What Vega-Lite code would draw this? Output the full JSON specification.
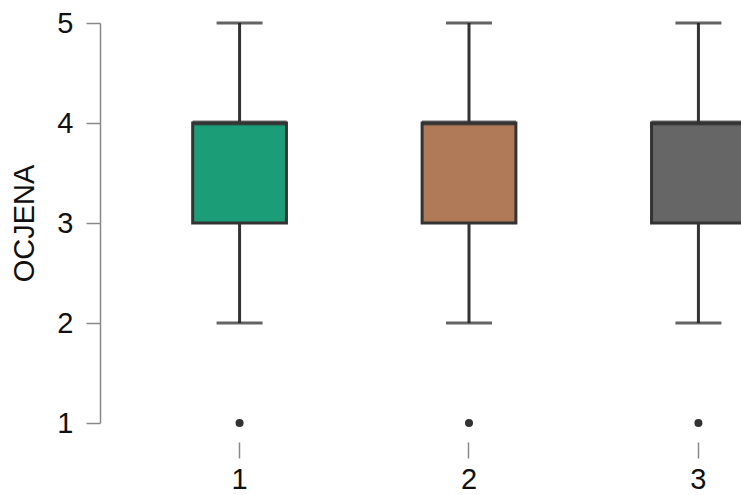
{
  "$schema": "https://vega.github.io/schema/vega-lite/v6.json",
  "autosize": "none",
  "padding": {"left": 100, "top": 23, "right": 0, "bottom": 72},
  "width": 738,
  "height": 400,
  "background": "white",
  "config": {
    "view": {"stroke": null},
    "font": "Liberation Sans"
  },
  "data": {
    "values": [
      {"grupa": "1", "lower": 2, "q1": 3, "median": 4, "q3": 4, "upper": 5, "outlier": 1},
      {"grupa": "2", "lower": 2, "q1": 3, "median": 4, "q3": 4, "upper": 5, "outlier": 1},
      {"grupa": "3", "lower": 2, "q1": 3, "median": 4, "q3": 4, "upper": 5, "outlier": 1}
    ]
  },
  "encoding": {
    "x": {
      "field": "grupa",
      "type": "nominal",
      "scale": {"paddingInner": 0.5913, "paddingOuter": 0.404},
      "axis": {
        "title": null,
        "labelAngle": 0,
        "domain": false,
        "offset": 19,
        "tickSize": 16,
        "tickColor": "#888888",
        "tickWidth": 1.5,
        "labelFontSize": 29,
        "labelColor": "#111111",
        "labelPadding": 7
      }
    }
  },
  "layer": [
    {
      "mark": {"type": "rule", "color": "#333333", "strokeWidth": 3},
      "encoding": {
        "y": {
          "field": "lower",
          "type": "quantitative",
          "scale": {"domain": [1, 5], "nice": false, "zero": false},
          "axis": {
            "title": "OCJENA",
            "values": [1, 2, 3, 4, 5],
            "format": "d",
            "grid": false,
            "domainColor": "#888888",
            "domainWidth": 1.5,
            "tickColor": "#888888",
            "tickWidth": 1.5,
            "tickSize": 14,
            "labelFontSize": 29,
            "labelColor": "#111111",
            "labelPadding": 13,
            "titleFontSize": 29,
            "titleFontWeight": "normal",
            "titleColor": "#111111",
            "titleX": -76,
            "titleY": 200,
            "titleAlign": "center",
            "titleBaseline": "middle",
            "titleAngle": -90
          }
        },
        "y2": {"field": "upper"}
      }
    },
    {
      "mark": {"type": "bar", "stroke": "#333333", "strokeWidth": 3},
      "encoding": {
        "y": {"field": "q1", "type": "quantitative"},
        "y2": {"field": "q3"},
        "color": {
          "field": "grupa",
          "type": "nominal",
          "scale": {"range": ["#1b9e77", "#b07a58", "#666666"]},
          "legend": null
        }
      }
    },
    {
      "mark": {"type": "tick", "color": "#333333", "thickness": 5, "size": 94},
      "encoding": {"y": {"field": "median", "type": "quantitative"}}
    },
    {
      "mark": {"type": "tick", "color": "#222222", "thickness": 3, "size": 46},
      "encoding": {"y": {"field": "upper", "type": "quantitative"}}
    },
    {
      "mark": {"type": "tick", "color": "#222222", "thickness": 3, "size": 46},
      "encoding": {"y": {"field": "lower", "type": "quantitative"}}
    },
    {
      "mark": {"type": "point", "filled": true, "color": "#333333", "opacity": 1, "size": 65},
      "encoding": {"y": {"field": "outlier", "type": "quantitative"}}
    }
  ]
}
